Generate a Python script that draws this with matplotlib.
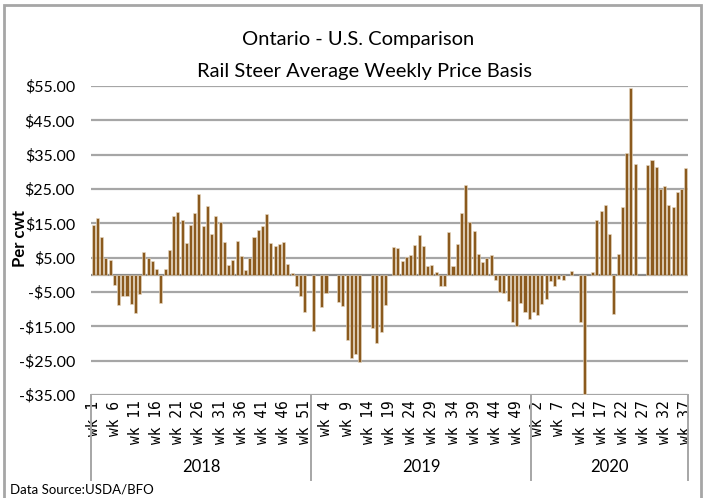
import numpy as np
import matplotlib
matplotlib.use("Agg")
import matplotlib.pyplot as plt
from matplotlib.patches import Rectangle
from matplotlib.lines import Line2D

plt.rcParams['font.family'] = ['Lato', 'DejaVu Sans']

nan = np.nan
years = ["2018", "2019", "2020"]
basis_2018 = [14.4, 16.5, 11.1, 4.9, 4.4, -2.9, -8.9, -6.3, -6.3, -8.4, -11.1, -5.6, 6.6,
              4.9, 4.1, 1.8, -8.1, 1.8, 7.2, 17.1, 18.4, 16.0, 9.2, 14.4, 18.1, 23.5,
              14.1, 20.1, 12.0, 17.1, 15.3, 9.5, 2.9, 4.4, 9.9, 5.4, 1.5, 4.9, 11.1,
              13.2, 14.1, 17.7, 9.2, 8.4, 8.9, 9.5, 3.2, 0.4, -3.2, -6.2, -10.8, nan]
basis_2019 = [-16.5, nan, -9.5, -5.4, nan, nan, -7.8, -9.2, -19.1, -24.3, -23.0, -25.3, nan,
              nan, -15.6, -19.9, -16.6, -8.8, nan, 8.1, 7.8, 3.9, 5.3, 5.7, 8.7, 11.7,
              8.4, 2.6, 2.9, 0.9, -3.2, -3.2, 12.6, 2.6, 8.9, 18.1, 26.3, 15.3, 12.9,
              6.2, 3.6, 4.8, 5.7, -1.5, -4.9, -5.4, -7.5, -13.6, -14.8, -8.2, -10.9, -12.9]
basis_2020 = [-10.8, -11.7, -8.4, -7.1, -1.9, -3.2, -1.2, -1.5, nan, 1.0, nan, -13.8, -34.8,
              nan, 0.8, 16.0, 18.7, 20.4, 12.0, -11.5, 6.2, 19.8, 35.5, 54.3, 32.3, nan,
              nan, 31.9, 33.4, 31.3, 25.0, 25.9, 20.4, 19.8, 24.1, 25.0, 31.0]
series = [basis_2018, basis_2019, basis_2020]
yticks = [55, 45, 35, 25, 15, 5, -5, -15, -25, -35]

values = np.array(basis_2018 + basis_2019 + basis_2020, dtype=float)
weeks = [w + 1 for s in series for w in range(len(s))]
x = np.arange(len(values))

fig = plt.figure(figsize=(7.03, 4.98), dpi=100)
W, H = 703, 498
ax_l, ax_r, ax_t, ax_b = 91, 688, 86, 395
ax = fig.add_axes([ax_l / W, (H - ax_b) / H, (ax_r - ax_l) / W, (ax_b - ax_t) / H])

grid_c = '#A6A6A6'
for v in yticks:
    ax.axhline(v, color=grid_c, lw=1.6, zorder=1)
ax.axhline(0, color='#8C8C8C', lw=1.6, zorder=1)

ax.bar(x, values, width=0.72, color='#8B5A1E', edgecolor='#E9DCC6', linewidth=0.4, zorder=3)

ax.set_xlim(-0.5, len(values) - 0.5)
ax.set_ylim(-35, 55)
for s in ax.spines.values():
    s.set_visible(False)

ax.set_yticks(yticks)
ax.set_yticklabels([("-$%.2f" % abs(v)) if v < 0 else ("$%.2f" % v) for v in yticks],
                   fontsize=11.5, color='#000000')
ax.tick_params(axis='y', length=0, pad=11.5)

tick_pos = x[::5]
ax.set_xticks(tick_pos)
ax.set_xticklabels(["wk %d" % weeks[i] for i in tick_pos], rotation=90, fontsize=10.5,
                   family=['DejaVu Sans Mono'], va='top')
ax.tick_params(axis='x', length=0, pad=4)

ax.set_ylabel("Per cwt", fontsize=12, fontweight='bold')
ax.yaxis.set_label_coords(-0.105, 0.505)

# multi-level category axis: separators and year labels
trans = ax.get_xaxis_transform()
bounds = [-0.5]
for s in series:
    bounds.append(bounds[-1] + len(s))
y_low = -(480 - ax_b) / (ax_b - ax_t)
for b in bounds:
    ax.add_line(Line2D([b, b], [0, y_low], transform=trans, color=grid_c, lw=1.4, clip_on=False))
for k, yr in enumerate(years):
    ax.text((bounds[k] + bounds[k + 1]) / 2, -(467 - ax_b) / (ax_b - ax_t), yr,
            transform=trans, ha='center', va='center', fontsize=12)

fig.text(358 / W, 1 - 40 / H, "Ontario - U.S. Comparison", ha='center', va='center', fontsize=14.5)
fig.text(364 / W, 1 - 72 / H, "Rail Steer Average Weekly Price Basis", ha='center', va='center', fontsize=14.5)
fig.text(10 / W, 1 - 489 / H, "Data Source:USDA/BFO", ha='left', va='center', fontsize=9.5)

# outer chart border
fig.add_artist(Rectangle((4 / W, -0.02), (701 - 4) / W, 1 - 5 / H + 0.02, transform=fig.transFigure,
                         fill=False, edgecolor='#A6A6A6', lw=2))

fig.savefig("out.png", dpi=100)
